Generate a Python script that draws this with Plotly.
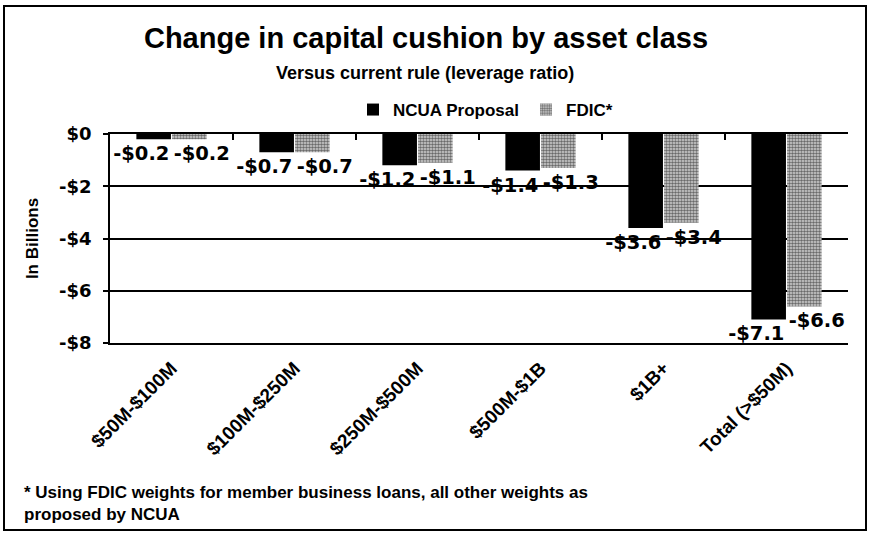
import plotly.graph_objects as go

categories = ["$50M-$100M", "$100M-$250M", "$250M-$500M", "$500M-$1B", "$1B+", "Total (>$50M)"]
ncua_values = [-0.2, -0.7, -1.2, -1.4, -3.6, -7.1]
fdic_values = [-0.2, -0.7, -1.1, -1.3, -3.4, -6.6]
ncua_labels = ["-$0.2", "-$0.7", "-$1.2", "-$1.4", "-$3.6", "-$7.1"]
fdic_labels = ["-$0.2", "-$0.7", "-$1.1", "-$1.3", "-$3.4", "-$6.6"]
y_tickvals = [0, -2, -4, -6, -8]
y_ticktext = ["$0", "-$2", "-$4", "-$6", "-$8"]

FONT = "Arial, Liberation Sans, sans-serif"
WIDE = "DejaVu Sans, Verdana, sans-serif"
W, H = 870, 538
ML, MR, MT, MB = 110, 22, 134, 195
PW = W - ML - MR
PH = H - MT - MB


def px_x(px):
    return (px - ML) / PW


def px_y(py):
    return (H - MB - py) / PH


PAD = "\u00a0" * 4
ncua_text = [f"<b>{t}</b>{PAD}" for t in ncua_labels]
fdic_text = [f"{PAD}<b>{t}</b>" for t in fdic_labels]

fig = go.Figure()
fig.add_trace(go.Bar(
    x=categories, y=ncua_values, name="<b>NCUA Proposal</b>",
    marker=dict(color="#000000", line=dict(width=0)),
    text=ncua_text, textposition="outside", constraintext="none",
    cliponaxis=False,
    textfont=dict(family=WIDE, size=19.5, color="#000000"),
))
fig.add_trace(go.Bar(
    x=categories, y=fdic_values, name="<b>FDIC*</b>",
    marker=dict(color="#a0a0a0", line=dict(width=0),
                pattern=dict(shape=".", fgcolor="#000000", bgcolor="#d4d4d4",
                             size=3, solidity=0.55)),
    text=fdic_text, textposition="outside", constraintext="none",
    cliponaxis=False,
    textfont=dict(family=WIDE, size=19.5, color="#000000"),
))
# invisible trace for the top axis (y = 0 line with boundary ticks)
fig.add_trace(go.Scatter(x=categories, y=[0] * len(categories), xaxis="x2",
                         mode="markers", marker=dict(opacity=0, size=1),
                         showlegend=False, hoverinfo="skip"))

fig.update_layout(
    width=W, height=H,
    margin=dict(l=ML, r=MR, t=MT, b=MB, autoexpand=False),
    paper_bgcolor="white", plot_bgcolor="white",
    font=dict(family=FONT, color="#000000"),
    barmode="group", bargap=0.42, bargroupgap=0.03,
    title=dict(text="<b>Change in capital cushion by asset class</b>",
               x=426 / W, xanchor="center", y=1 - 38 / H, yanchor="middle",
               font=dict(family=FONT, size=29, color="#000000")),
    legend=dict(orientation="h", x=px_x(353), xanchor="left",
                y=px_y(110), yanchor="middle",
                font=dict(family=FONT, size=17, color="#000000"),
                bgcolor="rgba(0,0,0,0)", itemwidth=30, traceorder="normal",
                entrywidth=128, entrywidthmode="pixels"),
    xaxis=dict(type="category", categoryorder="array", categoryarray=categories,
               range=[-0.5, 5.5], showline=True, linecolor="#000000", linewidth=1.5,
               ticks="", tickangle=-45, showgrid=False, ticklabelstandoff=5,
               tickfont=dict(family=FONT, size=19, color="#000000"),
               tickvals=categories, ticktext=[f"<b>{c}</b>" for c in categories],
               ),
    xaxis2=dict(type="category", categoryorder="array", categoryarray=categories,
                range=[-0.5, 5.5], overlaying="x", side="top", showline=True,
                linecolor="#000000", linewidth=1.5, ticks="inside", ticklen=6,
                tickwidth=1.5, tickcolor="#000000", tickson="boundaries",
                showticklabels=False, showgrid=False),
    yaxis=dict(range=[-8, 0], tickvals=y_tickvals,
               ticktext=[f"<b>{t}</b>" for t in y_ticktext],
               showline=True, linecolor="#000000", linewidth=1.5,
               ticks="outside", ticklen=5, tickwidth=1.5, tickcolor="#000000",
               showgrid=True, gridcolor="#000000", gridwidth=1.5, zeroline=False,
               ticklabelstandoff=8,
               tickfont=dict(family=WIDE, size=18, color="#000000"),
               title=dict(text="<b>In Billions</b>", standoff=16,
                          font=dict(family=FONT, size=17, color="#000000"))),
)

fig.add_annotation(text="<b>Versus current rule (leverage ratio)</b>",
                   xref="paper", yref="paper", x=px_x(425), y=px_y(73),
                   xanchor="center", yanchor="middle", showarrow=False,
                   font=dict(family=FONT, size=18, color="#000000"))
fig.add_annotation(text="<b>* Using FDIC weights for member business loans, all other weights as<br>proposed by NCUA</b>",
                   xref="paper", yref="paper", x=px_x(22), y=px_y(503),
                   xanchor="left", yanchor="middle", align="left", showarrow=False,
                   font=dict(family=FONT, size=17, color="#000000"))
fig.add_shape(type="rect", xref="paper", yref="paper",
              x0=px_x(4), x1=px_x(866), y0=px_y(530), y1=px_y(6),
              line=dict(color="#000000", width=2), layer="above")

fig.write_html("out.html", config={"displayModeBar": False},
               post_script="document.body.style.margin='0';document.body.style.overflow='hidden';")
